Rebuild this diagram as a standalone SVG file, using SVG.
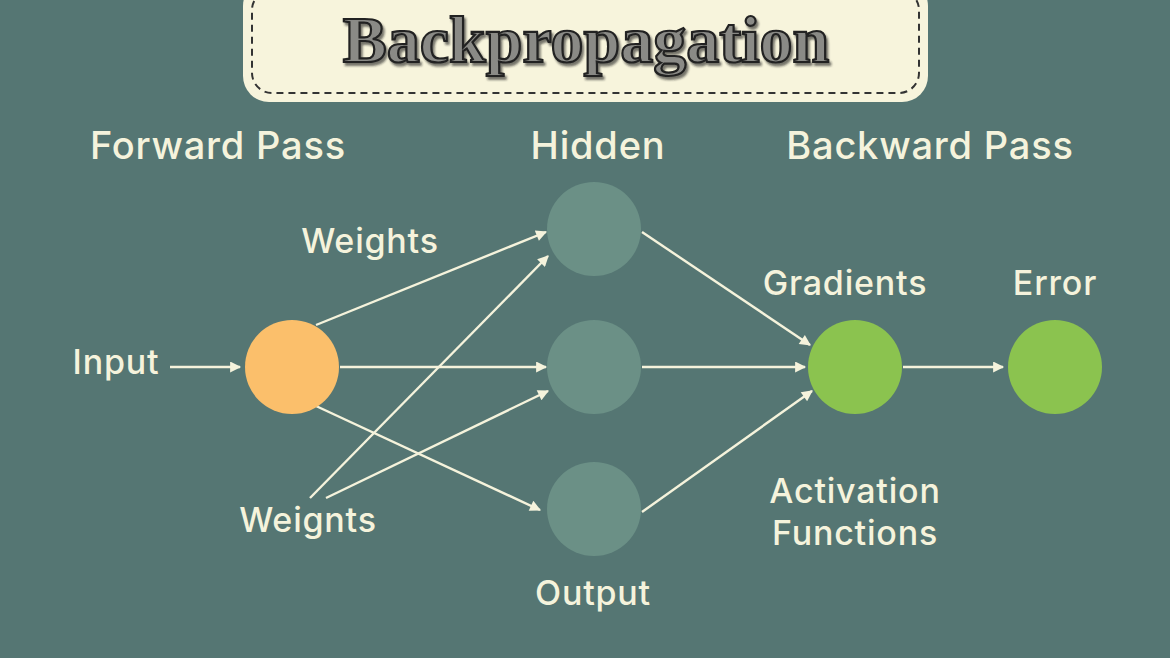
<svg xmlns="http://www.w3.org/2000/svg" width="1170" height="658" viewBox="0 0 1170 658">
<style>
.t{font-family:"Inter","Liberation Sans",sans-serif;font-weight:500;fill:#f5f3dc;letter-spacing:0.8px}
.c{stroke:#f5f3dc;stroke-width:2.4;fill:none;marker-end:url(#a)}
.h{fill:#6b9086}
</style>
<defs><marker id="a" viewBox="0 0 10 10" refX="9" refY="5" markerWidth="14" markerHeight="11" orient="auto" markerUnits="userSpaceOnUse"><path d="M0,0L10,5L0,10z" fill="#f5f3dc"/></marker>
<filter id="s"><feDropShadow dx="2" dy="3" stdDeviation="1" flood-color="#222" flood-opacity="0.6"/></filter></defs>
<rect width="1170" height="658" fill="#557673"/>
<g id="title">
<rect x="243" y="-20" width="685" height="122" rx="26" fill="#f7f4dc"/>
<rect x="252" y="-10" width="667" height="103" rx="20" fill="none" stroke="#333" stroke-width="2" stroke-dasharray="7,5"/>
<text x="586" y="62" text-anchor="middle" font-family="Liberation Serif,serif" font-weight="bold" font-size="66" fill="#8a8a86" stroke="#222" stroke-width="2.2" filter="url(#s)">Backpropagation</text>
</g>
<g id="labels">
<text class="t" x="218" y="159" font-size="38" text-anchor="middle">Forward Pass</text>
<text class="t" x="598" y="159" font-size="38" text-anchor="middle">Hidden</text>
<text class="t" x="930" y="159" font-size="38" text-anchor="middle">Backward Pass</text>
<text class="t" x="370" y="253" font-size="34" text-anchor="middle">Weights</text>
<text class="t" x="308" y="532" font-size="34" text-anchor="middle">Weignts</text>
<text class="t" x="116" y="374" font-size="34" text-anchor="middle">Input</text>
<text class="t" x="845" y="295" font-size="34" text-anchor="middle">Gradients</text>
<text class="t" x="1055" y="295" font-size="34" text-anchor="middle">Error</text>
<text class="t" x="855" y="503" font-size="34" text-anchor="middle">Activation</text>
<text class="t" x="855" y="545" font-size="34" text-anchor="middle">Functions</text>
<text class="t" x="593" y="605" font-size="34" text-anchor="middle">Output</text>
</g>
<g id="connectors">
<line class="c" x1="170" y1="367" x2="240" y2="367"/>
<line class="c" x1="316" y1="325" x2="546" y2="232"/>
<line class="c" x1="340" y1="367" x2="546" y2="367"/>
<line class="c" x1="316" y1="406" x2="540" y2="510"/>
<line class="c" x1="310" y1="498" x2="548" y2="256"/>
<line class="c" x1="326" y1="498" x2="548" y2="391"/>
<line class="c" x1="642" y1="232" x2="810" y2="345"/>
<line class="c" x1="642" y1="367" x2="805" y2="367"/>
<line class="c" x1="642" y1="512" x2="812" y2="391"/>
<line class="c" x1="903" y1="367" x2="1003" y2="367"/>
</g>
<g id="input"><circle cx="292" cy="367" r="47" fill="#fbbf6b"/></g>
<g id="hidden1"><circle class="h" cx="594" cy="229" r="47"/></g>
<g id="hidden2"><circle class="h" cx="594" cy="367" r="47"/></g>
<g id="hidden3"><circle class="h" cx="594" cy="509" r="47"/></g>
<g id="gradients"><circle cx="855" cy="367" r="47" fill="#8bc34f"/></g>
<g id="error"><circle cx="1055" cy="367" r="47" fill="#8bc34f"/></g>
</svg>
